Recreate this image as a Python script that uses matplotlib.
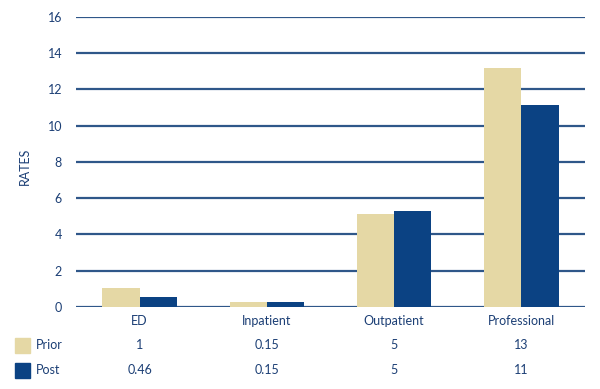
import matplotlib
matplotlib.use("Agg")
import matplotlib.pyplot as plt
import matplotlib.transforms as mtransforms
from matplotlib.patches import Rectangle
import numpy as np

# data
categories = ["ED", "Inpatient", "Outpatient", "Professional"]
prior = [1.03, 0.29, 5.1, 13.2]
post = [0.55, 0.29, 5.3, 11.15]
prior_labels = ["1", "0.15", "5", "13"]
post_labels = ["0.46", "0.15", "5", "11"]
y_ticks = [0, 2, 4, 6, 8, 10, 12, 14, 16]

BEIGE = "#E5D8A5"
NAVY = "#0B4283"
GRID = "#2F5789"
TEXT = "#1C3F75"
FS = 9

plt.rcParams["font.family"] = ["Lato", "DejaVu Sans"]

fig = plt.figure(figsize=(6.0, 3.89), dpi=100)
ax = fig.add_axes([76 / 600, 1 - 307 / 389, 509 / 600, (307 - 16.7) / 389])

x = np.arange(len(categories))
width = 0.293
ax.bar(x - width / 2, prior, width, color=BEIGE, zorder=3)
ax.bar(x + width / 2, post, width, color=NAVY, zorder=3)

for yv in y_ticks:
    ax.axhline(yv, color=GRID, linewidth=1.6, zorder=1)

ax.set_xlim(-0.5, 3.5)
ax.set_ylim(0, 16)
ax.set_yticks(y_ticks)
ax.set_yticklabels([str(v) for v in y_ticks], color=TEXT, fontsize=FS)
ax.tick_params(axis="y", length=0, pad=10)
ax.set_xticks([])
for s in ax.spines.values():
    s.set_visible(False)

# y axis title
fig.text(25 / 600, 1 - 166 / 389, "RATES", rotation=90, ha="center", va="center",
         color=TEXT, fontsize=FS)

# category names + data table under the axis
trans = mtransforms.blended_transform_factory(ax.transData, fig.transFigure)
for i, cat in enumerate(categories):
    ax.text(x[i], 1 - 321 / 389, cat, transform=trans, ha="center", va="center",
            color=TEXT, fontsize=FS)
    ax.text(x[i], 1 - 345 / 389, prior_labels[i], transform=trans, ha="center",
            va="center", color=TEXT, fontsize=FS)
    ax.text(x[i], 1 - 370 / 389, post_labels[i], transform=trans, ha="center",
            va="center", color=TEXT, fontsize=FS)

# legend swatches
for yc, col, lab in [(345, BEIGE, "Prior"), (370, NAVY, "Post")]:
    fig.patches.append(Rectangle((15 / 600, 1 - (yc + 7.5) / 389), 15 / 600, 15 / 389,
                                 transform=fig.transFigure, color=col))
    fig.text(36 / 600, 1 - yc / 389, lab, ha="left", va="center", color=TEXT,
             fontsize=FS)

fig.savefig("out.png", dpi=100)
